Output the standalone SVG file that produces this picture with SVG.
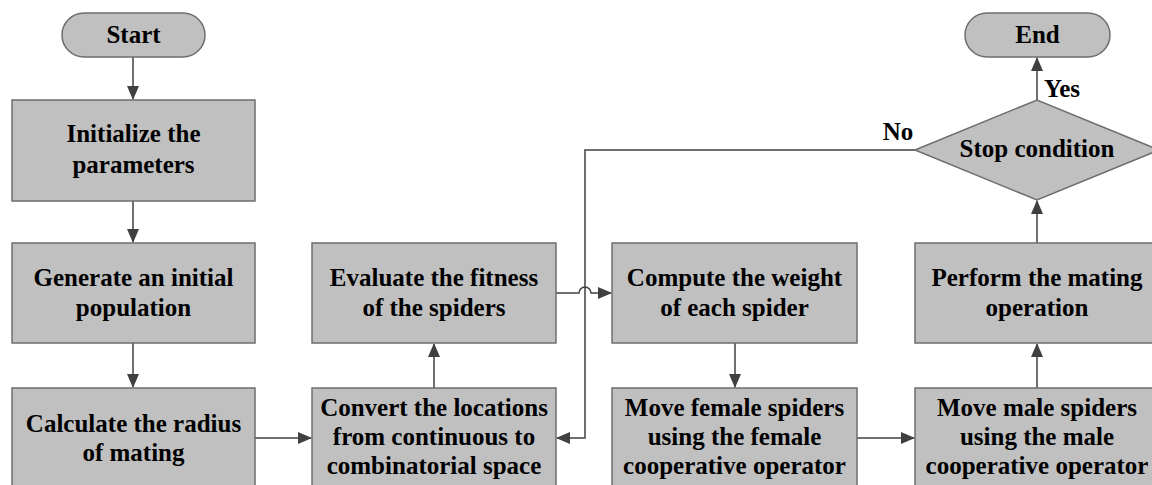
<svg xmlns="http://www.w3.org/2000/svg" width="1152" height="485" viewBox="0 0 1152 485">
<style>
.box{fill:#c0c0c0;stroke:#6e6e6e;stroke-width:1.5}
.t{font-family:"Liberation Serif","Times New Roman",serif;font-weight:bold;font-size:25px;fill:#000;text-anchor:middle}
.c{fill:none;stroke:#404040;stroke-width:1.5}
</style>
<defs>
<marker id="ah" markerUnits="userSpaceOnUse" markerWidth="14" markerHeight="12" refX="13" refY="6" orient="auto">
<path d="M0,0 L14,6 L0,12 Z" fill="#404040"/>
</marker>
</defs>
<rect width="1152" height="485" fill="#fff"/>
<g id="connectors">
<path class="c" d="M133,57 V99" marker-end="url(#ah)"/>
<path class="c" d="M133,201 V242" marker-end="url(#ah)"/>
<path class="c" d="M133,343 V387" marker-end="url(#ah)"/>
<path class="c" d="M255,438 H311" marker-end="url(#ah)"/>
<path class="c" d="M434,388 V344" marker-end="url(#ah)"/>
<path class="c" d="M556,293 H579 A6,6 0 0 1 591,293 H611" marker-end="url(#ah)"/>
<path class="c" d="M735,343 V387" marker-end="url(#ah)"/>
<path class="c" d="M857,438 H914" marker-end="url(#ah)"/>
<path class="c" d="M1037,388 V344" marker-end="url(#ah)"/>
<path class="c" d="M1037,243 V201" marker-end="url(#ah)"/>
<path class="c" d="M1037,100 V58" marker-end="url(#ah)"/>
<path class="c" d="M915,150 H585 V438 H557" marker-end="url(#ah)"/>
<text class="t" x="1062" y="97">Yes</text>
<text class="t" x="898" y="140">No</text>
</g>
<g id="start">
<rect class="box" x="62" y="13" width="143" height="44" rx="22"/>
<text class="t" x="133.5" y="43">Start</text>
</g>
<g id="end">
<rect class="box" x="965" y="13" width="145" height="44" rx="22"/>
<text class="t" x="1037.5" y="43">End</text>
</g>
<g id="init">
<rect class="box" x="12" y="100" width="243" height="101"/>
<text class="t" x="133.5" y="142">Initialize the</text>
<text class="t" x="133.5" y="173">parameters</text>
</g>
<g id="generate">
<rect class="box" x="12" y="243" width="243" height="100"/>
<text class="t" x="133.5" y="286">Generate an initial</text>
<text class="t" x="133.5" y="316">population</text>
</g>
<g id="calculate">
<rect class="box" x="12" y="388" width="243" height="100"/>
<text class="t" x="133.5" y="432">Calculate the radius</text>
<text class="t" x="133.5" y="461">of mating</text>
</g>
<g id="convert">
<rect class="box" x="312" y="388" width="244" height="100"/>
<text class="t" x="434" y="416">Convert the locations</text>
<text class="t" x="434" y="445">from continuous to</text>
<text class="t" x="434" y="474">combinatorial space</text>
</g>
<g id="evaluate">
<rect class="box" x="312" y="243" width="244" height="100"/>
<text class="t" x="434" y="286">Evaluate the fitness</text>
<text class="t" x="434" y="316">of the spiders</text>
</g>
<g id="compute">
<rect class="box" x="612" y="243" width="245" height="100"/>
<text class="t" x="734.5" y="286">Compute the weight</text>
<text class="t" x="734.5" y="316">of each spider</text>
</g>
<g id="female">
<rect class="box" x="612" y="388" width="245" height="100"/>
<text class="t" x="734.5" y="416">Move female spiders</text>
<text class="t" x="734.5" y="445">using the female</text>
<text class="t" x="734.5" y="474">cooperative operator</text>
</g>
<g id="male">
<rect class="box" x="915" y="388" width="245" height="100"/>
<text class="t" x="1037" y="416">Move male spiders</text>
<text class="t" x="1037" y="445">using the male</text>
<text class="t" x="1037" y="474">cooperative operator</text>
</g>
<g id="mating">
<rect class="box" x="915" y="243" width="245" height="100"/>
<text class="t" x="1037" y="286">Perform the mating</text>
<text class="t" x="1037" y="316">operation</text>
</g>
<g id="stop">
<polygon class="box" points="915,150 1037,100 1159,150 1037,200"/>
<text class="t" x="1037" y="157">Stop condition</text>
</g>
</svg>
